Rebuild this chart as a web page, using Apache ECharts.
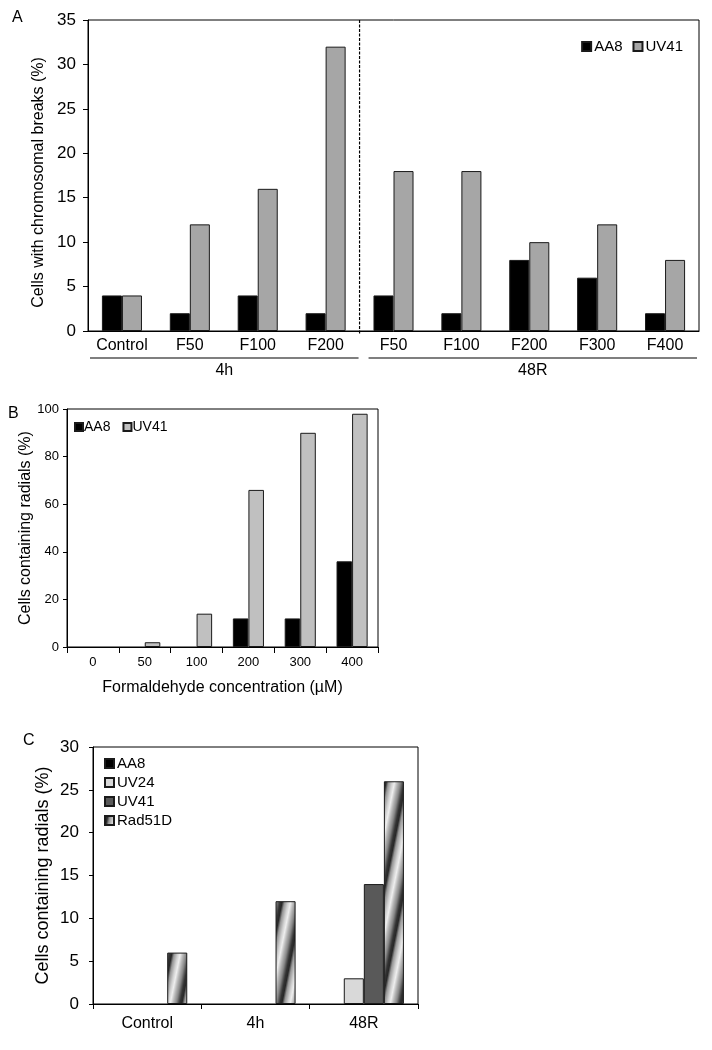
<!DOCTYPE html>
<html><head><meta charset="utf-8">
<script src="https://cdn.jsdelivr.net/npm/echarts@6/dist/echarts.min.js"></script>
<style>html,body{margin:0;padding:0;background:#fff}#c{width:712px;height:1050px}</style>
</head><body><div id="c"></div>
<script>
// ---- Panel A data ----
const aCategories = ['Control','F50','F100','F200','F50','F100','F200','F300','F400'];
const aGroups = ['4h','48R'];
const aGroupSizes = [4,5];
const aAA8 = [4,2,4,2,4,2,8,6,2];
const aUV41 = [4,12,16,32,18,18,10,12,8];
// ---- Panel B data ----
const bCategories = ['0','50','100','200','300','400'];
const bAA8 = [0,0,0,12,12,36];
const bUV41 = [0,2,14,66,90,98];
// ---- Panel C data ----
const cCategories = ['Control','4h','48R'];
const cAA8 = [0,0,0];
const cUV24 = [0,0,3];
const cUV41 = [0,0,14];
const cRad51D = [6,12,26];

const FONT = "'Liberation Sans', Arial, sans-serif";
const NARROW = "'Liberation Sans Narrow', 'Arial Narrow', 'Liberation Sans', sans-serif";

function makePattern(){
  const w=20,h=100;
  const cv=document.createElement('canvas'); cv.width=w; cv.height=h;
  const ctx=cv.getContext('2d'); const img=ctx.createImageData(w,h);
  const stops=[[0,50],[0.1,40],[0.22,150],[0.4,210],[0.52,238],[0.66,185],[0.82,135],[0.93,80],[1,50]];
  for(let y=0;y<h;y++){for(let x=0;x<w;x++){
    const t=((x + y*w/h)%w)/w;
    let v=50;
    for(let i=0;i<stops.length-1;i++){
      if(t>=stops[i][0]&&t<=stops[i+1][0]){const f=(t-stops[i][0])/(stops[i+1][0]-stops[i][0]);v=stops[i][1]+f*(stops[i+1][1]-stops[i][1]);break;}
    }
    const k=(y*w+x)*4; img.data[k]=v;img.data[k+1]=v;img.data[k+2]=v;img.data[k+3]=255;
  }}
  ctx.putImageData(img,0,0);
  return cv;
}
const pattern = {image: makePattern(), repeat: 'repeat'};

const chart = echarts.init(document.getElementById('c'), null, {renderer:'canvas'});
const nameFmt = n => n.split(':')[1];
const border = {borderColor:'#1a1a1a', borderWidth:1};
// zero-height bars are not drawn in the reference: hide their outline
const bars = arr => arr.map(v => v === 0 ? {value:v, itemStyle:{borderWidth:0}} : v);

const option = {
  animation:false,
  backgroundColor:'#fff',
  textStyle:{fontFamily:FONT, color:'#000'},
  grid:[
    {left:88, top:20, width:611, height:311, show:true, borderColor:'#000', borderWidth:1, backgroundColor:'transparent'},
    {left:67, top:409, width:311, height:238, show:true, borderColor:'#000', borderWidth:1, backgroundColor:'transparent'},
    {left:93, top:747, width:325, height:257, show:true, borderColor:'#000', borderWidth:1, backgroundColor:'transparent'}
  ],
  legend:[
    {data:['A:AA8','A:UV41'], formatter:nameFmt, right:24, top:34, itemWidth:9, itemHeight:9, itemGap:10,
     icon:'rect', textStyle:{fontSize:15, fontFamily:FONT, color:'#000', padding:[0,0,0,-2]}},
    {data:['B:AA8','B:UV41'], formatter:nameFmt, left:69, top:415, itemWidth:8, itemHeight:8, itemGap:12,
     icon:'rect', textStyle:{fontSize:14, fontFamily:NARROW, color:'#000', padding:[0,0,0,-4]}},
    {data:['C:AA8','C:UV24','C:UV41','C:Rad51D'], formatter:nameFmt, orient:'vertical', left:99, top:751,
     itemWidth:9, itemHeight:9, itemGap:4, icon:'rect', textStyle:{fontSize:15, fontFamily:FONT, color:'#000', padding:[0,0,0,-2]}}
  ],
  xAxis:[
    {type:'category', gridIndex:0, data:aCategories,
     axisLine:{lineStyle:{color:'#000', width:1}}, axisTick:{show:false},
     axisLabel:{fontSize:16, color:'#000', margin:7, fontFamily:FONT}},
    {type:'category', gridIndex:1, data:bCategories,
     name:'Formaldehyde concentration (µM)', nameLocation:'middle', nameGap:33,
     nameTextStyle:{fontSize:16, color:'#000', fontFamily:FONT},
     axisLine:{lineStyle:{color:'#000'}}, axisTick:{show:true, length:6, lineStyle:{color:'#000'}},
     axisLabel:{fontSize:13, color:'#000', margin:9, fontFamily:NARROW}},
    {type:'category', gridIndex:2, data:cCategories,
     axisLine:{lineStyle:{color:'#000'}}, axisTick:{show:true, length:5, lineStyle:{color:'#000'}},
     axisLabel:{fontSize:16, color:'#000', margin:12, fontFamily:FONT}}
  ],
  yAxis:[
    {type:'value', gridIndex:0, min:0, max:35, interval:5,
     name:'Cells with chromosomal breaks (%)', nameLocation:'middle', nameGap:41,
     nameTextStyle:{fontSize:16, color:'#000', fontFamily:FONT, padding:[0,14,0,0]},
     axisLine:{show:true, lineStyle:{color:'#000'}}, axisTick:{show:true, length:5, lineStyle:{color:'#000'}},
     splitLine:{show:false}, axisLabel:{fontSize:17, color:'#000', margin:12, fontFamily:FONT}},
    {type:'value', gridIndex:1, min:0, max:100, interval:20,
     name:'Cells containing radials (%)', nameLocation:'middle', nameGap:25,
     nameTextStyle:{fontSize:16, color:'#000', fontFamily:FONT},
     axisLine:{show:true, lineStyle:{color:'#000'}}, axisTick:{show:true, length:4, lineStyle:{color:'#000'}},
     splitLine:{show:false}, axisLabel:{fontSize:13, color:'#000', margin:8, fontFamily:NARROW}},
    {type:'value', gridIndex:2, min:0, max:30, interval:5,
     name:'Cells containing radials (%)', nameLocation:'middle', nameGap:41,
     nameTextStyle:{fontSize:18, color:'#000', fontFamily:FONT},
     axisLine:{show:true, lineStyle:{color:'#000'}}, axisTick:{show:true, length:4, lineStyle:{color:'#000'}},
     splitLine:{show:false}, axisLabel:{fontSize:17, color:'#000', margin:14, fontFamily:FONT}}
  ],
  series:[
    {name:'A:AA8', type:'bar', xAxisIndex:0, yAxisIndex:0, data:bars(aAA8), barGap:'0%', barCategoryGap:'41%',
     itemStyle:Object.assign({color:'#000'}, border)},
    {name:'A:UV41', type:'bar', xAxisIndex:0, yAxisIndex:0, data:bars(aUV41), barGap:'0%', barCategoryGap:'41%',
     itemStyle:Object.assign({color:'#a6a6a6'}, border)},
    {name:'B:AA8', type:'bar', xAxisIndex:1, yAxisIndex:1, data:bars(bAA8), barGap:'0%', barCategoryGap:'40%',
     itemStyle:Object.assign({color:'#000'}, border)},
    {name:'B:UV41', type:'bar', xAxisIndex:1, yAxisIndex:1, data:bars(bUV41), barGap:'0%', barCategoryGap:'40%',
     itemStyle:Object.assign({color:'#c0c0c0'}, border)},
    {name:'C:AA8', type:'bar', xAxisIndex:2, yAxisIndex:2, data:bars(cAA8), barGap:'0%', barCategoryGap:'26%',
     itemStyle:Object.assign({color:'#000'}, border)},
    {name:'C:UV24', type:'bar', xAxisIndex:2, yAxisIndex:2, data:bars(cUV24), barGap:'0%', barCategoryGap:'26%',
     itemStyle:Object.assign({color:'#d9d9d9'}, border)},
    {name:'C:UV41', type:'bar', xAxisIndex:2, yAxisIndex:2, data:bars(cUV41), barGap:'0%', barCategoryGap:'26%',
     itemStyle:Object.assign({color:'#595959'}, border)},
    {name:'C:Rad51D', type:'bar', xAxisIndex:2, yAxisIndex:2, data:bars(cRad51D), barGap:'0%', barCategoryGap:'26%',
     itemStyle:Object.assign({color:pattern}, border)}
  ]
};
chart.setOption(option);

// Decorations computed from the axes
const px = (axis, v) => chart.convertToPixel({xAxisIndex:axis}, v);
const py = (axis, v) => chart.convertToPixel({yAxisIndex:axis}, v);
const catW = px(0,1) - px(0,0);
const leftEdge = px(0,0) - catW/2;
const rightEdge = px(0,aCategories.length-1) + catW/2;
const boundary = (px(0,aGroupSizes[0]-1) + px(0,aGroupSizes[0]))/2;
const yTop = py(0,35), yBase = py(0,0);
const lineY = yBase + 27;
const groupSpans = [[leftEdge+2, boundary-1],[boundary+9, rightEdge-2]];
const graphics = [
  {type:'line', shape:{x1:boundary, y1:yTop, x2:boundary, y2:yBase+4}, style:{stroke:'#000', lineWidth:1.2, lineDash:[3,1.5]}, z:10},
  {type:'text', left:12, top:10, style:{text:'A', fontSize:16, fontFamily:FONT, fill:'#000'}},
  {type:'text', left:8, top:406, style:{text:'B', fontSize:16, fontFamily:FONT, fill:'#000'}},
  {type:'text', left:23, top:733, style:{text:'C', fontSize:16, fontFamily:FONT, fill:'#000'}}
];
groupSpans.forEach((s,i)=>{
  graphics.push({type:'line', shape:{x1:s[0], y1:lineY, x2:s[1], y2:lineY}, style:{stroke:'#000', lineWidth:1.2}});
  graphics.push({type:'text', x:(s[0]+s[1])/2, y:lineY+13, style:{text:aGroups[i], fontSize:16, fontFamily:FONT, fill:'#000', align:'center', verticalAlign:'middle'}});
});
chart.setOption({graphic:graphics});
</script>
</body></html>
